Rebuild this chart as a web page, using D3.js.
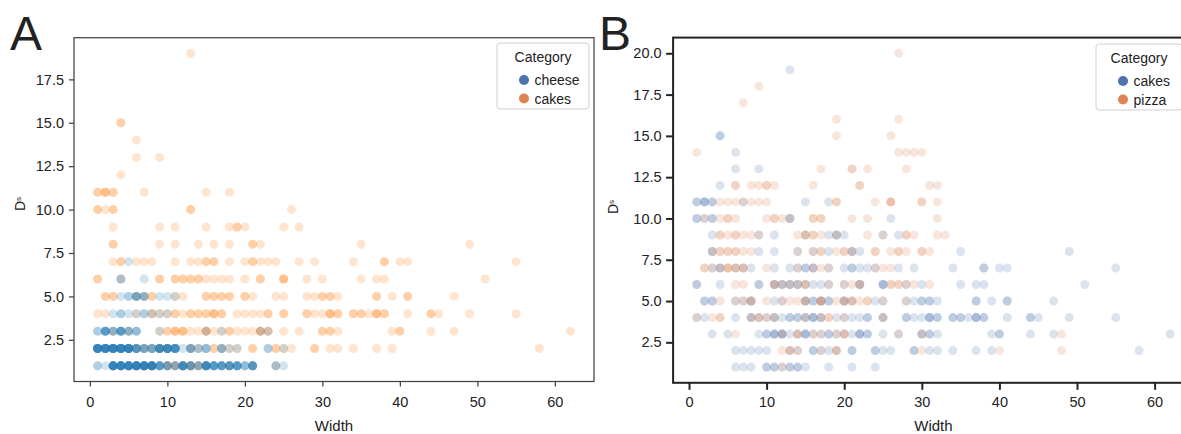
<!DOCTYPE html>
<html>
<head>
<meta charset="utf-8">
<script src="https://cdn.jsdelivr.net/npm/d3@7"></script>
<style>
  body { margin: 0; background: #fff; }
  svg text { font-family: "Liberation Sans", Arial, Helvetica, sans-serif; fill: #222; }
</style>
</head>
<body>
<script>
// ---- data: each row is [Ds value, list of Width values] (repeats = stacked points)
const cheeseRows = [
  [1, [1,1,2,3,3,3,3,3,3,3,3,3,3,4,4,4,4,4,4,4,4,4,4,5,5,5,5,5,5,5,5,5,5,6,6,6,6,6,6,6,6,6,6,7,7,7,7,7,7,7,7,7,7,8,8,8,8,8,8,8,8,8,8,
       9,9,9,9,9,9,10,10,10,10,11,11,11,12,12,12,12,12,12,12,12,13,13,13,13,13,14,14,14,15,15,15,15,15,15,15,15,16,16,16,16,16,16,
       17,17,17,17,17,17,18,18,18,18,18,18,19,19,19,19,19,19,20,20,20,21,21,21,21,21,21,24,24,25]],
  [2, [1,1,1,1,1,1,1,1,1,1,2,2,2,2,2,2,2,2,2,2,3,3,3,3,3,3,3,3,3,3,4,4,4,4,4,4,4,4,4,4,5,5,5,5,5,5,5,5,5,5,6,6,6,6,6,6,7,7,7,7,8,8,8,8,
       9,9,9,9,9,9,9,9,10,10,10,10,10,10,10,10,11,11,11,11,11,11,11,11,12,13,13,13,13,14,14,15,15,15,17,17,17,18,19,23,23,25]],
  [3, [1,1,2,2,2,2,2,2,3,3,3,4,4,4,4,4,4,5,5,5,6,6,6,9,15,17,22,23]],
  [4, [3,4,4,5,6,7,7,8,9,10]],
  [5, [4,5,5,6,6,6,6,7,7,7,9,10,11]],
  [6, [4,4,7]],
  [7, [5]]
];

const cakesRows = [
  [1, [6,7,8,10,10,11,11,12,13,13,14,14,15,18,21,24]],
  [2, [6,7,8,9,10,13,14,16,16,17,18,19,21,21,24,24,25,26,29,29,31,32,34,37,39,58]],
  [3, [3,5,9,10,10,11,11,11,12,12,12,13,14,15,15,15,16,17,18,18,19,20,21,22,22,22,23,23,25,27,30,30,31,31,32,39,40,40,44,47,62]],
  [4, [1,2,6,8,8,9,10,11,11,12,13,13,14,14,15,15,16,16,16,17,17,19,20,21,22,23,23,25,25,28,28,29,30,31,31,31,32,32,34,34,35,35,36,37,37,37,38,38,41,44,44,45,49,55]],
  [5, [2,2,3,3,6,7,8,8,11,12,15,15,16,16,17,17,18,18,20,20,21,24,25,28,29,30,30,31,31,32,37,37,39,41,41,47]],
  [6, [1,1,4,9,9,11,11,12,12,13,13,14,14,15,16,17,18,20,22,22,25,25,25,28,30,35,37,38,51]],
  [7, [3,4,4,6,7,8,11,13,14,15,15,16,16,18,20,21,21,22,23,24,27,29,34,38,38,40,41,55]],
  [8, [3,3,9,11,14,16,18,21,21,22,35,49]],
  [9, [3,9,11,15,18,19,19,20,25,27]],
  [10, [1,1,2,3,3,13,13,26]],
  [11, [1,1,2,2,2,3,3,7,15,18]],
  [12, [4]],
  [13, [6,9]],
  [14, [6]],
  [15, [4,4]],
  [19, [13]]
];

const pizzaRows = [
  [1, [12]],
  [2, [12,13,13,14,17,19,19,30,40,48]],
  [3, [6,12,14,14,16,17,19,20,20,27,30,48]],
  [4, [1,3,4,4,8,9,9,10,11,15,17,18,18,20,25]],
  [5, [4,6,7,8,8,10,12,13,14,15,15,17,17,17,19,20,20,21,21,22,23,23,25,28]],
  [6, [6,7,11,11,12,13,14,15,15,18,20,21,22,22,26,26,27,27,28,29,31]],
  [7, [2,2,3,4,5,5,5,6,6,7,7,10,14,16,17,18,24,25,26]],
  [8, [3,4,4,5,5,6,6,7,8,14,16,17,17,19,20,20,21,24,24,26,27,27,28,30,30,31]],
  [9, [4,4,5,6,6,7,8,9,14,15,15,16,16,17,19,23,25,28,28,29,32,33]],
  [10, [2,4,5,5,6,10,11,11,12,13,16,16,17,17,21,23,32]],
  [11, [4,5,6,7,8,9,10,19,19,24,26,26,26,30,30,32]],
  [12, [6,6,8,9,10,10,11,16,22,22,31,32]],
  [13, [17,21,21,23,28]],
  [14, [1,27,28,29,30]],
  [15, [19,26]],
  [16, [19,27]],
  [17, [7]],
  [18, [9]],
  [20, [27]]
];

const categoriesA = ['cheese', 'cakes'];
const categoriesB = ['cakes', 'pizza'];
const xTicks = [0, 10, 20, 30, 40, 50, 60];
const yTicksA = [2.5, 5, 7.5, 10, 12.5, 15, 17.5];
const yTicksB = [2.5, 5, 7.5, 10, 12.5, 15, 17.5, 20];

// flatten rows into points
const toPoints = rows => rows.flatMap(([y, xs]) => xs.map(x => ({x, y})));

const svg = d3.select('body')
  .append('svg')
  .attr('width', 1181)
  .attr('height', 434);

function drawPanel(p) {
  const x = d3.scaleLinear().domain([-2.05, 65.05]).range([p.left, p.right]);
  const y = d3.scaleLinear().domain(p.yDomain).range([p.bottom, p.top]);
  const g = svg.append('g');

  // points, in drawing order
  p.series.forEach(s => {
    g.append('g').selectAll('circle')
      .data(toPoints(s.rows))
      .enter()
      .append('circle')
      .attr('cx', d => x(d.x))
      .attr('cy', d => y(d.y))
      .attr('r', 4.5)
      .attr('fill', s.color)
      .attr('fill-opacity', 0.2);
  });

  // x axis
  const xa = g.append('g')
    .attr('transform', `translate(0,${p.bottom})`)
    .call(d3.axisBottom(x).tickValues(xTicks).tickSize(p.tick).tickSizeOuter(0).tickPadding(p.xPad));
  // y axis
  const ya = g.append('g')
    .attr('transform', `translate(${p.left},0)`)
    .call(d3.axisLeft(y).tickValues(p.yTicks).tickFormat(d3.format('.1f')).tickSize(p.tick).tickSizeOuter(0).tickPadding(p.yPad));
  [xa, ya].forEach(a => {
    a.select('.domain').remove();
    a.selectAll('line').attr('stroke', p.spine).attr('stroke-width', p.spineW);
    a.selectAll('text').attr('font-size', 14.5).attr('fill', '#222');
  });

  // frame
  g.append('rect')
    .attr('x', p.left).attr('y', p.top)
    .attr('width', p.right - p.left).attr('height', p.bottom - p.top)
    .attr('fill', 'none')
    .attr('stroke', p.spine)
    .attr('stroke-width', p.spineW);

  // axis titles
  g.append('text')
    .attr('x', (p.left + p.right) / 2)
    .attr('y', 431)
    .attr('text-anchor', 'middle')
    .attr('font-size', 15)
    .text('Width');

  const yl = g.append('text')
    .attr('transform', `translate(${p.ylabX},${p.ylabY}) rotate(-90)`)
    .attr('font-size', 14);
  yl.append('tspan').text('D');
  yl.append('tspan').attr('font-size', 8).attr('dy', -4).text('s');

  // panel letter
  g.append('text')
    .attr('x', p.letterX)
    .attr('y', 50)
    .attr('font-size', 48)
    .attr('fill', '#000')
    .text(p.letter);

  // legend
  const lg = g.append('g').attr('transform', `translate(${p.legX},${p.legY})`);
  lg.append('rect')
    .attr('width', p.legW).attr('height', 66)
    .attr('rx', 3)
    .attr('fill', '#fff').attr('fill-opacity', 0.8)
    .attr('stroke', '#d0d0d0');
  lg.append('text')
    .attr('x', p.legW / 2).attr('y', 19)
    .attr('text-anchor', 'middle')
    .attr('font-size', 14)
    .text('Category');
  p.legend.forEach((name, i) => {
    lg.append('circle')
      .attr('cx', 27).attr('cy', 37 + i * 18.5)
      .attr('r', 5)
      .attr('fill', p.legColors[i]);
    lg.append('text')
      .attr('x', 37.5).attr('y', 42 + i * 18.5)
      .attr('font-size', 14)
      .text(name);
  });
}

drawPanel({
  left: 74, right: 594, top: 37.7, bottom: 381.5,
  yDomain: [0.1, 19.9], yTicks: yTicksA,
  tick: 5, xPad: 10, yPad: 5,
  spine: '#444', spineW: 1.25,
  series: [
    {rows: cakesRows, color: '#ff7f0e'},
    {rows: cheeseRows, color: '#1f77b4'}
  ],
  legend: categoriesA, legColors: ['#4c72b0', '#dd8452'],
  legX: 497, legY: 43, legW: 92,
  letter: 'A', letterX: 10,
  ylabX: 25, ylabY: 211
});

drawPanel({
  left: 673.1, right: 1193.8, top: 37.6, bottom: 382.8,
  yDomain: [0.05, 20.95], yTicks: yTicksB,
  tick: 7, xPad: 7, yPad: 4.5,
  spine: '#222', spineW: 2,
  series: [
    {rows: cakesRows, color: '#4c72b0'},
    {rows: pizzaRows, color: '#dd8452'}
  ],
  legend: categoriesB, legColors: ['#4c72b0', '#dd8452'],
  legX: 1096, legY: 44, legW: 86,
  letter: 'B', letterX: 599,
  ylabX: 618, ylabY: 214
});
</script>
</body>
</html>
